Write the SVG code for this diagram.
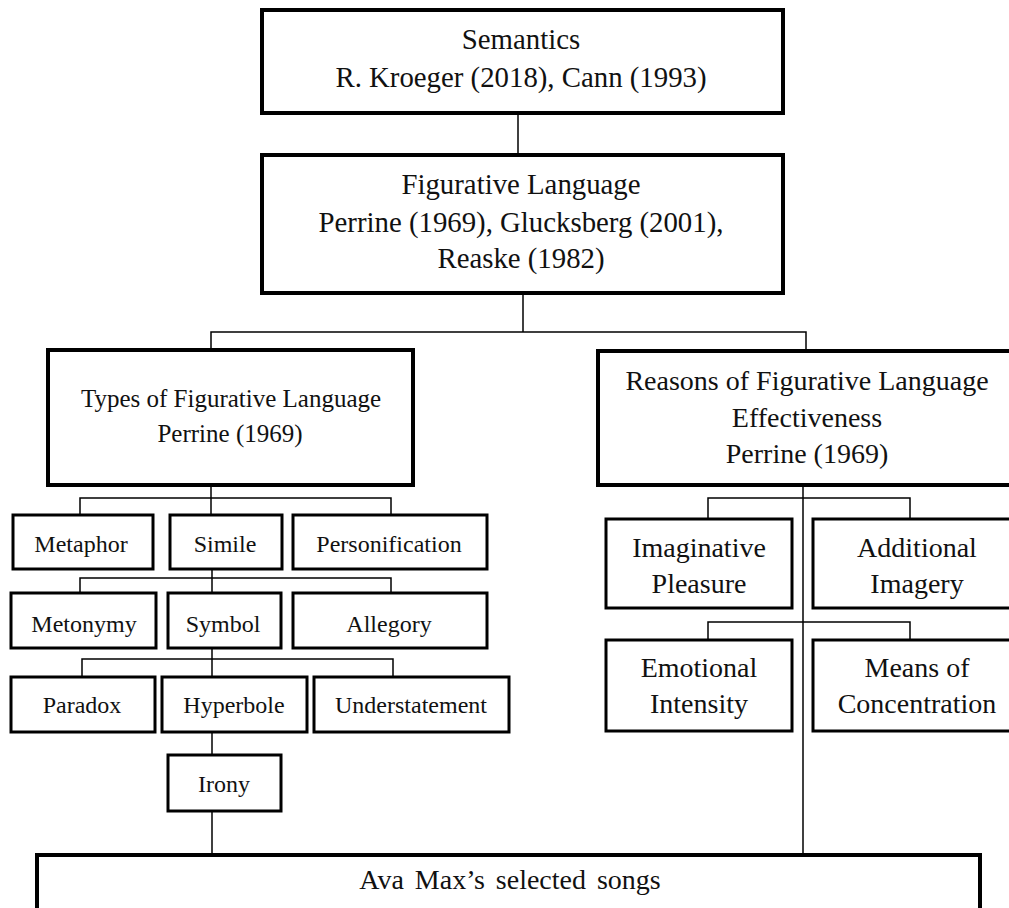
<svg xmlns="http://www.w3.org/2000/svg" width="1009" height="908" viewBox="0 0 1009 908" font-family="'Liberation Serif', 'Times New Roman', Times, serif">
<style>
.big{fill:#fff;stroke:#000;stroke-width:4}
.sm{fill:#fff;stroke:#000;stroke-width:3}
.con{fill:none;stroke:#000;stroke-width:1.5}
text{fill:#111;text-anchor:middle}
.t29{font-size:28.8px}
.t28{font-size:28px}
.t25{font-size:25px}
.t24{font-size:24px}
</style>
<rect width="1009" height="908" fill="#fff"/>
<g id="connectors">
<line class="con" x1="518" y1="113" x2="518" y2="155"/>
<polyline class="con" points="523,293 523,332"/>
<polyline class="con" points="211,350 211,332 806,332 806,351"/>
<line class="con" x1="211" y1="485" x2="211" y2="515"/>
<polyline class="con" points="80,515 80,498 391,498 391,515"/>
<line class="con" x1="212" y1="569" x2="212" y2="593"/>
<polyline class="con" points="80,593 80,578 391,578 391,593"/>
<line class="con" x1="212" y1="648" x2="212" y2="677"/>
<polyline class="con" points="82,677 82,659 393,659 393,677"/>
<line class="con" x1="212" y1="732" x2="212" y2="755"/>
<line class="con" x1="212" y1="811" x2="212" y2="855"/>
<line class="con" x1="803" y1="485" x2="803" y2="855"/>
<polyline class="con" points="708,519 708,498 910,498 910,519"/>
<polyline class="con" points="708,640 708,622 910,622 910,640"/>
</g>
<g id="semantics">
<rect class="big" x="262" y="10" width="521" height="103"/>
<text class="t29" x="521" y="49">Semantics</text>
<text class="t29" x="521" y="87">R. Kroeger (2018), Cann (1993)</text>
</g>
<g id="figurative">
<rect class="big" x="262" y="155" width="521" height="138"/>
<text class="t29" x="521" y="194">Figurative Language</text>
<text class="t29" x="521" y="232">Perrine (1969), Glucksberg (2001),</text>
<text class="t29" x="521" y="268">Reaske (1982)</text>
</g>
<g id="types">
<rect class="big" x="48" y="350" width="365" height="135"/>
<text class="t25" x="231" y="407">Types of Figurative Language</text>
<text class="t25" x="230" y="442">Perrine (1969)</text>
</g>
<g id="reasons">
<rect class="big" x="598" y="351" width="420" height="134"/>
<text class="t28" x="807" y="390">Reasons of Figurative Language</text>
<text class="t28" x="807" y="427">Effectiveness</text>
<text class="t28" x="807" y="463">Perrine (1969)</text>
</g>
<g id="metaphor"><rect class="sm" x="13" y="515" width="140" height="54"/><text class="t24" x="81" y="552">Metaphor</text></g>
<g id="simile"><rect class="sm" x="170" y="515" width="112" height="54"/><text class="t24" x="225" y="552">Simile</text></g>
<g id="personification"><rect class="sm" x="293" y="515" width="194" height="54"/><text class="t24" x="389" y="552">Personification</text></g>
<g id="metonymy"><rect class="sm" x="11" y="593" width="145" height="55"/><text class="t24" x="84" y="632">Metonymy</text></g>
<g id="symbol"><rect class="sm" x="168" y="593" width="113" height="55"/><text class="t24" x="223" y="632">Symbol</text></g>
<g id="allegory"><rect class="sm" x="293" y="593" width="194" height="55"/><text class="t24" x="389" y="632">Allegory</text></g>
<g id="paradox"><rect class="sm" x="11" y="677" width="144" height="55"/><text class="t24" x="82" y="713">Paradox</text></g>
<g id="hyperbole"><rect class="sm" x="162" y="677" width="145" height="55"/><text class="t24" x="234" y="713">Hyperbole</text></g>
<g id="understatement"><rect class="sm" x="314" y="677" width="195" height="55"/><text class="t24" x="411" y="713">Understatement</text></g>
<g id="irony"><rect class="sm" x="168" y="755" width="113" height="56"/><text class="t24" x="224" y="792">Irony</text></g>
<g id="imaginative"><rect class="sm" x="606" y="519" width="186" height="89"/><text class="t28" x="699" y="557">Imaginative</text><text class="t28" x="699" y="593">Pleasure</text></g>
<g id="additional"><rect class="sm" x="813" y="519" width="205" height="89"/><text class="t28" x="917" y="557">Additional</text><text class="t28" x="917" y="593">Imagery</text></g>
<g id="emotional"><rect class="sm" x="606" y="640" width="186" height="91"/><text class="t28" x="699" y="677">Emotional</text><text class="t28" x="699" y="713">Intensity</text></g>
<g id="means"><rect class="sm" x="813" y="640" width="205" height="91"/><text class="t28" x="917" y="677">Means of</text><text class="t28" x="917" y="713">Concentration</text></g>
<g id="avamax">
<rect class="big" x="37" y="855" width="943" height="70"/>
<text class="t28" x="510" y="889" word-spacing="4">Ava Max’s selected songs</text>
</g>
</svg>
